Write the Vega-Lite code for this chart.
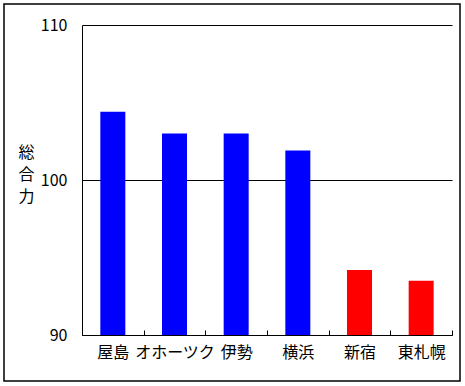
{
  "$schema": "https://vega.github.io/schema/vega-lite/v6.json",
  "width": 456,
  "height": 377,
  "autosize": {"type": "none"},
  "padding": {"left": 4, "top": 4, "right": 5, "bottom": 5},
  "background": "white",
  "config": {
    "view": {"stroke": "black", "strokeWidth": 1.5},
    "font": "Noto Sans CJK JP",
    "axis": {"labelFont": "Noto Sans CJK JP", "titleFont": "Noto Sans CJK JP"}
  },
  "data": {
    "values": [
      {"name": "屋島", "score": 104.4, "group": "a"},
      {"name": "オホーツク", "score": 103.0, "group": "a"},
      {"name": "伊勢", "score": 103.0, "group": "a"},
      {"name": "横浜", "score": 101.9, "group": "a"},
      {"name": "新宿", "score": 94.2, "group": "b"},
      {"name": "東札幌", "score": 93.5, "group": "b"}
    ]
  },
  "mark": {"type": "bar", "size": 25},
  "encoding": {
    "x": {
      "field": "name",
      "type": "nominal",
      "sort": null,
      "scale": {"range": [78, 448], "paddingInner": 0, "paddingOuter": 0},
      "axis": {
        "title": null,
        "orient": "bottom",
        "offset": -46,
        "labelAngle": 0,
        "labelFontSize": 16,
        "labelColor": "black",
        "labelPadding": 14,
        "labelBaseline": "top",
        "tickBand": "extent",
        "tickSize": -5,
        "tickColor": "black",
        "domainColor": "black",
        "grid": false
      }
    },
    "y": {
      "field": "score",
      "type": "quantitative",
      "scale": {"domain": [90, 110], "range": [331, 21], "zero": false, "nice": false},
      "axis": {
        "title": ["総", "合", "力"],
        "titleAngle": 0,
        "titleAlign": "center",
        "titleBaseline": "top",
        "titleX": -56,
        "titleY": 140,
        "titleFontSize": 16,
        "titleFontWeight": "normal",
        "titleLineHeight": 22,
        "titleColor": "black",
        "offset": -78,
        "values": [90, 100, 110],
        "ticks": false,
        "labelPadding": 15,
        "labelFontSize": 16,
        "labelColor": "black",
        "domainColor": "black",
        "grid": true,
        "gridColor": "black",
        "gridOpacity": 1
      }
    },
    "y2": {"datum": 90},
    "color": {
      "field": "group",
      "type": "nominal",
      "scale": {"domain": ["a", "b"], "range": ["#0000FF", "#FF0000"]},
      "legend": null
    }
  }
}
